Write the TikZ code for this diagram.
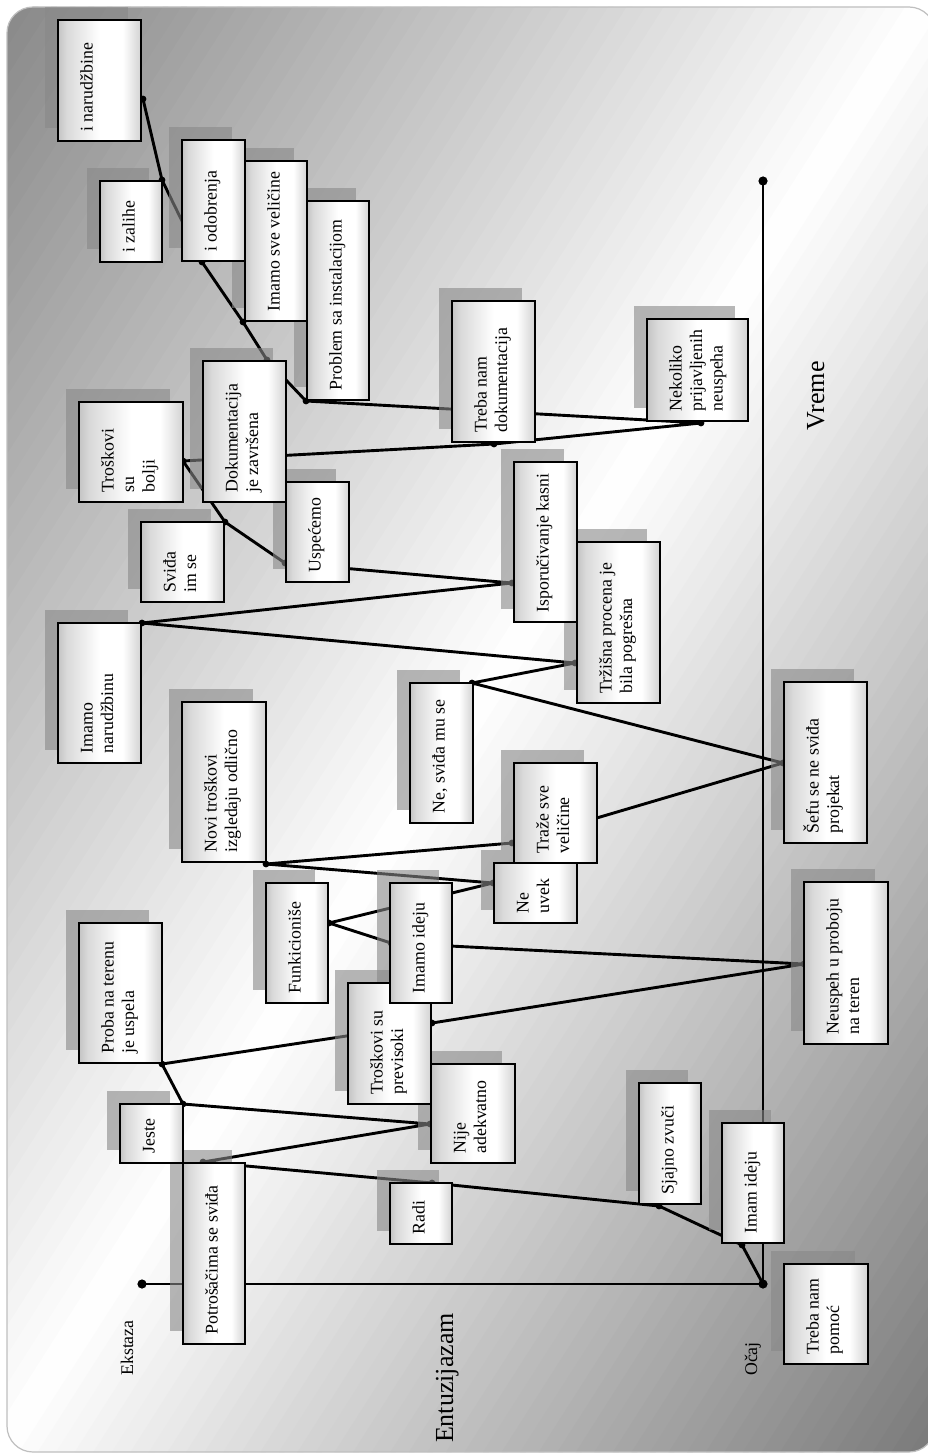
\documentclass[tikz,border=0pt]{standalone}
\usepackage{fontspec}
\setmainfont{Liberation Serif}
\usetikzlibrary{fit}

\pgfdeclarelayer{bg}
\pgfdeclarelayer{conn}
\pgfdeclarelayer{shade}
\pgfsetlayers{bg,conn,shade,main}

% metallic fill of the boxes: dark edges, bright band right of centre
\pgfdeclarehorizontalshading{boxfill}{100bp}{color(0bp)=(black!66); color(10bp)=(black!48); color(30bp)=(black!15); color(50bp)=(white); color(64bp)=(white); color(84bp)=(black!32); color(100bp)=(black!66)}
\definecolor{shadowgray}{gray}{0.533}

% one box: name, x1, y1, x2, y2, text (image coordinates, y downwards)
\newcommand\mybox[6]{%
  \node[boxnode, fit={(#2,#3) (#4,#5)}] (#1) {};
  \begin{pgfonlayer}{shade}
    \fill[boxshadow] ([shift={(-13,-13)}]#1.south west) rectangle ([shift={(-13,-13)}]#1.north east);
  \end{pgfonlayer}
  \node[boxlabel] (#1-t) at ([shift={(34.5,-9.5)}]#1.south west)
    {\begin{tabular}[t]{@{}l@{}}#6\end{tabular}};
}

\begin{document}
\begin{tikzpicture}[x=1pt, y=-1pt,
  boxnode/.style={draw=black, line width=1.4pt, shade, shading=boxfill, inner sep=0pt, outer sep=0pt},
  boxshadow/.style={fill=shadowgray, fill opacity=0.6},
  boxlabel/.style={rotate=90, anchor=base west, inner sep=0pt, outer sep=0pt, font=\fontsize{17.8}{20.5}\selectfont},
  biglabel/.style={rotate=90, anchor=base, inner sep=0pt, font=\fontsize{26}{30}\selectfont},
  smalllabel/.style={rotate=90, anchor=base, inner sep=0pt, font=\fontsize{17.8}{20.5}\selectfont},
  axisline/.style={line width=1.5pt, black},
  curve/.style={line width=2.9pt, black, line join=round},
  ]
\useasboundingbox (0,0) rectangle (928,1453);

% ---------- background panel with diagonal gradient ----------
\begin{pgfonlayer}{bg}
  \fill[white] (0,0) rectangle (928,1453);
  \begin{scope}
    \clip[rounded corners=26pt] (7,7) rectangle (935,1452);
    \foreach \i in {0,...,101} {
      \pgfmathsetmacro\ua{\i/50}
      \pgfmathsetmacro\ub{(\i+1.3)/50}
      \pgfmathsetmacro\um{(\i+0.5)/50}
      \pgfmathsetmacro\g{\um<1 ? 0.53+0.47*\um : max(0.45,1-0.52*(\um-1))}
      \definecolor{stripc}{gray}{\g}
      \fill[stripc] (\ua*928+92.8,-145.3) -- (\ua*928-1020.8,1598.3)
                    -- (\ub*928-1020.8,1598.3) -- (\ub*928+92.8,-145.3) -- cycle;
    }
  \end{scope}
  \draw[black!25, line width=1.2pt, rounded corners=26pt] (7,7) rectangle (935,1452);
\end{pgfonlayer}

% ---------- axes ----------
\coordinate (axtop) at (763,181);
\coordinate (axorg) at (763,1284);
\coordinate (axext) at (142,1284);

% ---------- points of the curve ----------
\coordinate (p0)  at (763,1284);  % start
\coordinate (p1)  at (742,1245);  % Imam ideju
\coordinate (p2)  at (659,1206);  % Sjajno zvuci
\coordinate (p3)  at (432,1183);  % Radi
\coordinate (p4)  at (203,1162);  % Potrosacima se svida
\coordinate (p5)  at (430,1124);  % Nije adekvatno
\coordinate (p6)  at (183,1104);  % Jeste
\coordinate (p7)  at (162,1064);  % Proba na terenu
\coordinate (p8)  at (432,1023);  % Troskovi su previsoki
\coordinate (p9)  at (804,964);   % Neuspeh u proboju
\coordinate (p10) at (391,943);   % Imamo ideju
\coordinate (p11) at (329,923);   % Funkicionise
\coordinate (p12) at (493,883);   % Ne uvek
\coordinate (p13) at (266,864);   % Novi troskovi
\coordinate (p14) at (512,843);   % Traze sve velicine
\coordinate (p15) at (783,763);   % Sefu se ne svida
\coordinate (p16) at (472,683);   % Ne, svida mu se
\coordinate (p17) at (575,663);   % Trzisna procena
\coordinate (p18) at (142,623);   % Imamo narudzbinu
\coordinate (p19) at (512,583);   % Isporucivanje kasni
\coordinate (p20) at (285,563);   % Uspecemo
\coordinate (p21) at (225,522);   % Svida im se
\coordinate (p22) at (183,461);   % Troskovi su bolji
\coordinate (p23) at (494,444);   % Treba nam dokumentacija
\coordinate (p24) at (701,423);   % Nekoliko prijavljenih
\coordinate (p25) at (306,401);   % Problem sa instalacijom
\coordinate (p26) at (267,360);   % Dokumentacija je zavrsena
\coordinate (p27) at (243,322);   % Imamo sve velicine
\coordinate (p28) at (202,262);   % i odobrenja
\coordinate (p29) at (162,180);   % i zalihe
\coordinate (p30) at (143,99);    % i narudzbine

\begin{pgfonlayer}{conn}
  \draw[axisline] (axtop) -- (axorg) -- (axext);
  \foreach \c in {axtop,axorg,axext} \fill (\c) circle[radius=4.6pt];
  \draw[curve] (p0) \foreach \k in {1,...,30} { -- (p\k) };
  \foreach \k in {1,...,30} \fill (p\k) circle[radius=3.4pt];
\end{pgfonlayer}

% ---------- boxes ----------
\mybox{narudzbine}{58}{20}{141}{141}{i narudžbine}
\mybox{zalihe}{100}{181}{162}{262}{i zalihe}
\mybox{odobrenja}{182}{140}{245}{261}{i odobrenja}
\mybox{velicine}{245}{161}{307}{321}{Imamo sve veličine}
\mybox{problem}{307}{201}{369}{400}{Problem sa instalacijom}
\mybox{dokum}{203}{361}{286}{502}{Dokumentacija\\je završena}
\mybox{bolji}{79}{402}{183}{502}{Troškovi\\su\\bolji}
\mybox{svidja}{141}{522}{224}{602}{Sviđa\\im se}
\mybox{uspecemo}{286}{482}{349}{582}{Uspećemo}
\mybox{narudzbinu}{58}{623}{141}{763}{Imamo\\narudžbinu}
\mybox{novi}{182}{702}{266}{862}{Novi troškovi\\izgledaju odlično}
\mybox{nesvidja}{410}{683}{473}{823}{Ne, sviđa mu se}
\mybox{trebadok}{452}{301}{535}{442}{Treba nam\\dokumentacija}
\mybox{nekoliko}{647}{319}{748}{421}{Nekoliko\\prijavljenih\\neuspeha}
\mybox{isporuc}{514}{462}{577}{622}{Isporučivanje kasni}
\mybox{trzisna}{577}{542}{660}{703}{Tržišna procena je\\bila pogrešna}
\mybox{sefu}{784}{682}{867}{843}{Šefu se ne sviđa\\projekat}
\mybox{traze}{514}{763}{597}{863}{Traže sve\\veličine}
\mybox{neuvek}{494}{863}{577}{923}{Ne\\uvek}
\mybox{funk}{266}{883}{328}{1003}{Funkicioniše}
\mybox{previsoki}{348}{983}{431}{1104}{Troškovi su\\previsoki}
\mybox{imamoidj}{390}{883}{452}{1003}{Imamo ideju}
\mybox{neuspeh}{804}{882}{888}{1044}{Neuspeh u proboju\\na teren}
\mybox{proba}{79}{923}{162}{1063}{Proba na terenu\\je uspela}
\mybox{nije}{431}{1064}{515}{1163}{Nije\\adekvatno}
\mybox{jeste}{120}{1104}{183}{1163}{Jeste}
\mybox{potrosaci}{183}{1163}{245}{1344}{Potrošačima se sviđa}
\mybox{radi}{390}{1183}{452}{1244}{Radi}
\mybox{sjajno}{639}{1083}{701}{1204}{Sjajno zvuči}
\mybox{imam}{722}{1123}{784}{1243}{Imam ideju}
\mybox{pomoc}{784}{1264}{868}{1364}{Treba nam\\pomoć}

% ---------- axis labels ----------
\node[biglabel] (vreme) at (824,396) {Vreme};
\node[biglabel] (entuz) at (453,1378) {Entuzijazam};
\node[smalllabel] (ekst) at (133,1348) {Ekstaza};
\node[smalllabel] (ocaj) at (757,1359) {Očaj};
\end{tikzpicture}
\end{document}
